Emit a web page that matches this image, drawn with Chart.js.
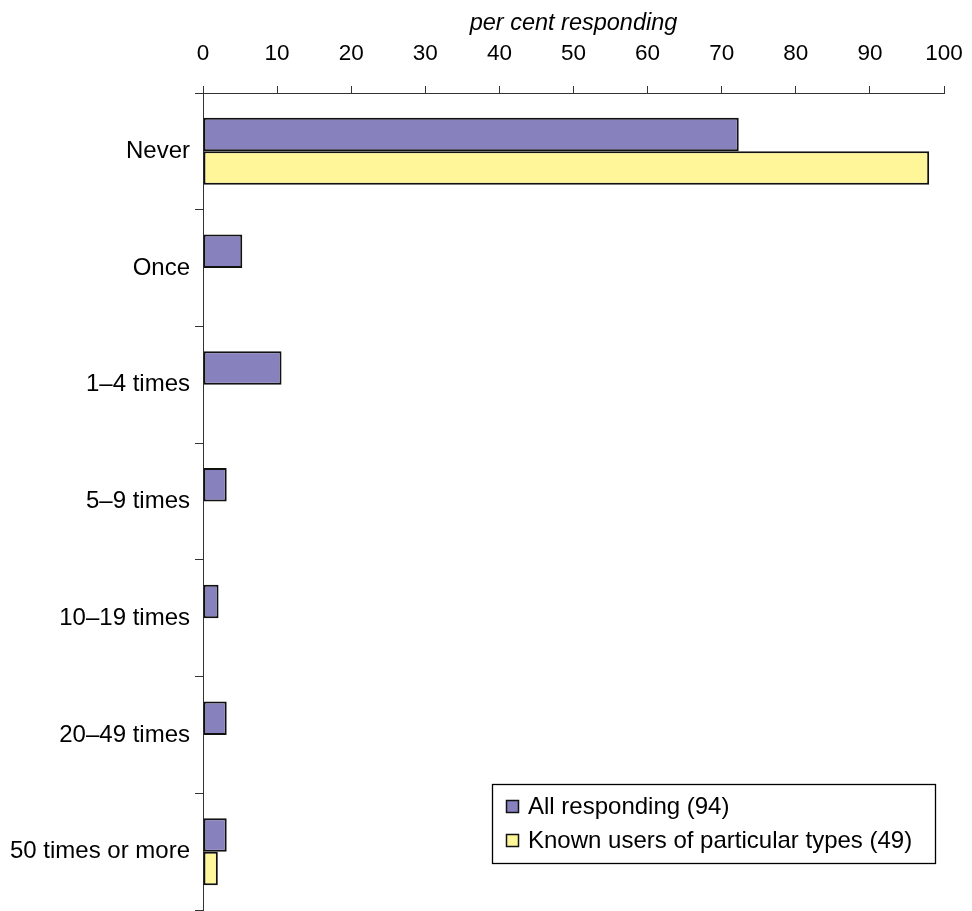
<!DOCTYPE html>
<html>
<head>
<meta charset="utf-8">
<title>Frequency of responses</title>
<script src="https://cdn.jsdelivr.net/npm/chart.js@4.4.1/dist/chart.umd.min.js"></script>
<style>
  html, body { margin: 0; padding: 0; background: #ffffff; }
  #wrap { width: 972px; height: 911px; }
</style>
</head>
<body>
<div id="wrap"><canvas id="chart" width="972" height="911"></canvas></div>
<script>
// Response categories (one row each)
const categories = ['Never', 'Once', '1\u20134 times', '5\u20139 times', '10\u201319 times', '20\u201349 times', '50 times or more'];

// Per cent responding in each category
const allResponding = [72.3, 5.3, 10.6, 3.2, 2.1, 3.2, 3.2];
const knownUsers = [98.0, null, null, null, null, null, 2.0];

// Series names shown in the legend
const seriesLabels = ['All responding (94)', 'Known users of particular types (49)'];

// Axis ticks for the per-cent scale
const xTickValues = [0, 10, 20, 30, 40, 50, 60, 70, 80, 90, 100];
const xTitle = 'per cent responding';

const FONT = "'Liberation Sans', Arial, Helvetica, sans-serif";
const PURPLE = '#8781bd';
const YELLOW = '#fff699';
const OUTLINE = '#111111';
const AXIS = '#333333';

// Boxed legend drawn inside the lower right of the plot
const boxedLegend = {
  id: 'boxedLegend',
  afterDraw(chart) {
    const ctx = chart.ctx;
    const left = 492, top = 784, right = 936, bottom = 864;
    ctx.save();
    ctx.fillStyle = '#ffffff';
    ctx.fillRect(left, top, right - left, bottom - top);
    ctx.strokeStyle = '#000000';
    ctx.lineWidth = 1.3;
    ctx.strokeRect(left + 0.5, top + 0.5, right - left - 1, bottom - top - 1);
    ctx.font = '24px ' + FONT;
    ctx.textBaseline = 'middle';
    ctx.textAlign = 'left';
    chart.data.datasets.forEach((ds, i) => {
      const cy = 806 + i * 34;
      ctx.fillStyle = ds.backgroundColor;
      ctx.fillRect(506, cy - 6, 13, 13);
      ctx.strokeStyle = OUTLINE;
      ctx.lineWidth = 1.5;
      ctx.strokeRect(506.5, cy - 5.5, 12, 12);
      ctx.fillStyle = '#000000';
      ctx.fillText(ds.label, 528, cy + 1);
    });
    ctx.restore();
  }
};

new Chart(document.getElementById('chart'), {
  type: 'bar',
  data: {
    labels: categories,
    datasets: [
      {
        label: seriesLabels[0],
        data: allResponding,
        backgroundColor: PURPLE,
        borderColor: OUTLINE,
        borderWidth: 2,
        borderSkipped: false,
        categoryPercentage: 0.574,
        barPercentage: 1.0
      },
      {
        label: seriesLabels[1],
        data: knownUsers,
        backgroundColor: YELLOW,
        borderColor: OUTLINE,
        borderWidth: 2,
        borderSkipped: false,
        categoryPercentage: 0.574,
        barPercentage: 1.0
      }
    ]
  },
  options: {
    indexAxis: 'y',
    responsive: false,
    animation: false,
    devicePixelRatio: 1,
    layout: { padding: { left: 0, right: 28, top: 0, bottom: 1 } },
    plugins: {
      legend: { display: false },
      tooltip: { enabled: false }
    },
    scales: {
      x: {
        position: 'top',
        min: 0,
        max: 100,
        afterBuildTicks(scale) {
          scale.ticks = xTickValues.map(v => ({ value: v }));
        },
        afterFit(scale) {
          scale.height = 93;
          scale.paddingLeft = 0;
          scale.paddingRight = 0;
        },
        ticks: {
          color: '#000000',
          font: { family: FONT, size: 22.5 },
          padding: 19,
          maxRotation: 0
        },
        grid: {
          display: true,
          drawOnChartArea: false,
          drawTicks: true,
          tickLength: 7,
          color: AXIS,
          lineWidth: 1
        },
        border: { display: true, color: AXIS, width: 1 },
        title: {
          display: true,
          text: xTitle,
          color: '#000000',
          font: { family: FONT, size: 23.5, style: 'italic' },
          padding: { top: 9, bottom: 0 }
        }
      },
      y: {
        afterFit(scale) {
          scale.width = 203;
          scale.paddingTop = 0;
          scale.paddingBottom = 0;
        },
        ticks: {
          color: '#000000',
          font: { family: FONT, size: 24 },
          padding: 5
        },
        grid: {
          display: true,
          offset: true,
          drawOnChartArea: false,
          drawTicks: true,
          tickLength: 8,
          color: AXIS,
          lineWidth: 1
        },
        border: { display: true, color: AXIS, width: 1 }
      }
    }
  },
  plugins: [boxedLegend]
});
</script>
</body>
</html>
